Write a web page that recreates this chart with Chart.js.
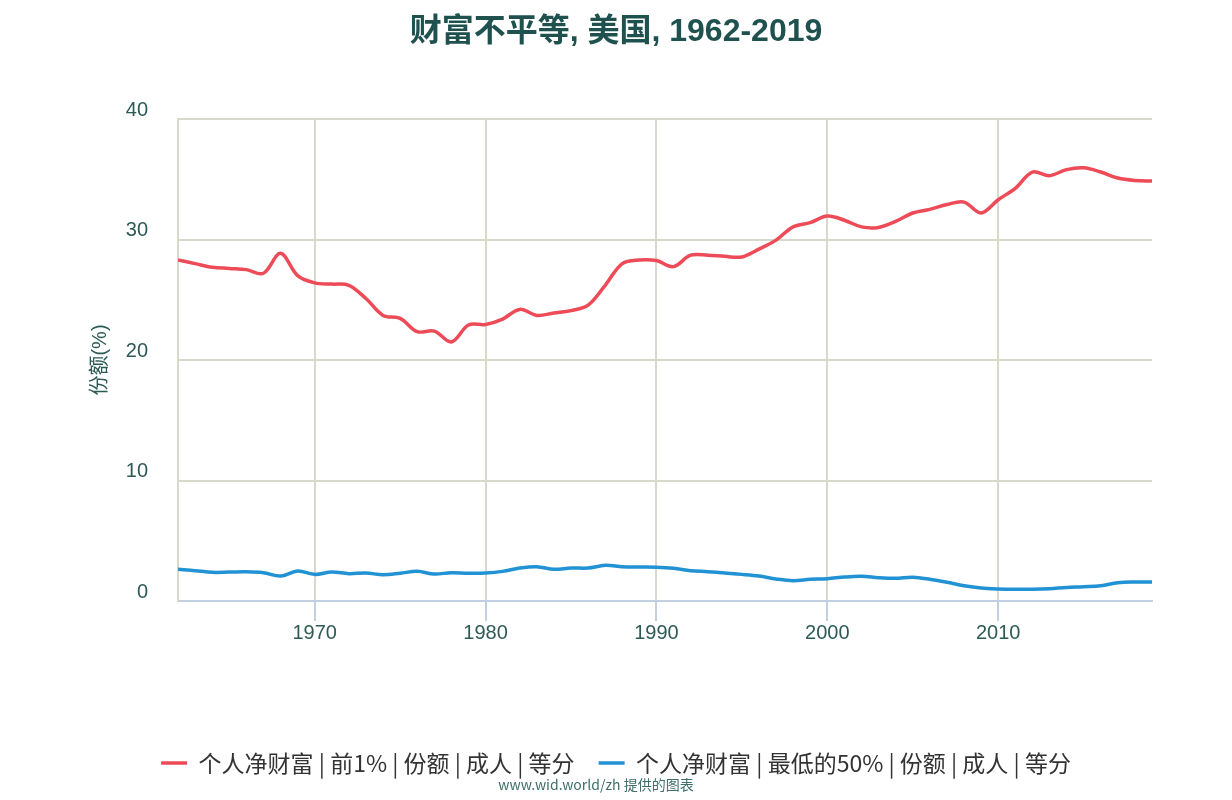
<!DOCTYPE html>
<html>
<head>
<meta charset="utf-8">
<script src="https://cdn.jsdelivr.net/npm/chart.js@4"></script>
<style>
  html, body { margin: 0; padding: 0; background: #ffffff; }
  #wrap { width: 1232px; height: 800px; }
</style>
</head>
<body>
<div id="wrap"><canvas id="graficaRiqueza" width="1232" height="800"></canvas></div>
<script>
// datos
const anios = [
  1962, 1963, 1964, 1965, 1966, 1967, 1968, 1969, 1970, 1971,
  1972, 1973, 1974, 1975, 1976, 1977, 1978, 1979, 1980, 1981,
  1982, 1983, 1984, 1985, 1986, 1987, 1988, 1989, 1990, 1991,
  1992, 1993, 1994, 1995, 1996, 1997, 1998, 1999, 2000, 2001,
  2002, 2003, 2004, 2005, 2006, 2007, 2008, 2009, 2010, 2011,
  2012, 2013, 2014, 2015, 2016, 2017, 2018, 2019
];
const top1 = [
  28.3, 28.0, 27.7, 27.6, 27.5, 27.2, 28.85, 27.0, 26.4, 26.3,
  26.2, 25.1, 23.7, 23.45, 22.35, 22.4, 21.5, 22.9, 22.95, 23.4,
  24.2, 23.7, 23.9, 24.1, 24.55, 26.2, 28.0, 28.3, 28.25, 27.75,
  28.7, 28.7, 28.6, 28.55, 29.2, 29.95, 31.05, 31.4, 31.95, 31.6,
  31.05, 31.0, 31.5, 32.2, 32.5, 32.9, 33.1, 32.2, 33.3, 34.25,
  35.6, 35.3, 35.8, 35.95, 35.6, 35.1, 34.9, 34.85
];
const bottom50 = [
  2.63, 2.52, 2.38, 2.4, 2.43, 2.35, 2.07, 2.49, 2.21, 2.4,
  2.27, 2.32, 2.18, 2.3, 2.46, 2.24, 2.35, 2.3, 2.32, 2.46,
  2.74, 2.85, 2.63, 2.74, 2.74, 2.96, 2.85, 2.82, 2.8, 2.71,
  2.52, 2.43, 2.32, 2.21, 2.07, 1.83, 1.69, 1.8, 1.85, 1.99,
  2.05, 1.93, 1.88, 1.97, 1.8, 1.55, 1.27, 1.08, 1.0, 0.97,
  0.97, 1.02, 1.13, 1.19, 1.27, 1.52, 1.58, 1.58
];
const ticksX = [1970, 1980, 1990, 2000, 2010];
const nombres = [
  "个人净财富 | 前1% | 份额 | 成人 | 等分",
  "个人净财富 | 最低的50% | 份额 | 成人 | 等分"
];

const colorGrid = "#d9d9cb";
const colorEje = "#c0d0e0";
const colorTexto = "#2d5a55";
const fuente = "'Liberation Sans', 'Noto Sans CJK SC', sans-serif";

// texto de creditos abajo
const creditos = {
  id: "creditos",
  afterDraw(chart) {
    const ctx = chart.ctx;
    ctx.save();
    ctx.font = "14px 'Noto Sans CJK SC', sans-serif";
    ctx.fillStyle = "#3d6f68";
    ctx.textAlign = "center";
    ctx.textBaseline = "middle";
    ctx.fillText("www.wid.world/zh 提供的图表", 596, 785);
    ctx.restore();
  },
};

const serie = (ys) => anios.map((a, i) => ({ x: a, y: ys[i] }));

const ctx = document.getElementById("graficaRiqueza").getContext("2d");
window.myChart = new Chart(ctx, {
  type: "line",
  data: {
    datasets: [
      {
        label: nombres[0],
        data: serie(top1),
        borderColor: "#ec4b57",
        backgroundColor: "#ec4b57",
        borderWidth: 3.5,
        pointRadius: 0,
        tension: 0.35,
      },
      {
        label: nombres[1],
        data: serie(bottom50),
        borderColor: "#2192d3",
        backgroundColor: "#2192d3",
        borderWidth: 3.5,
        pointRadius: 0,
        tension: 0.35,
      },
    ],
  },
  options: {
    responsive: false,
    animation: false,
    layout: { padding: { left: 0, right: 0, top: 0, bottom: 15.5 } },
    plugins: {
      title: {
        display: true,
        text: "财富不平等, 美国, 1962-2019",
        color: "#1f524f",
        font: { family: fuente, size: 32, weight: "bold" },
        padding: { top: 13, bottom: 67.6 },
      },
      legend: {
        position: "bottom",
        labels: {
          usePointStyle: true,
          pointStyle: "line",
          pointStyleWidth: 26,
          padding: 24,
          color: "#333333",
          font: { family: "'Noto Sans CJK SC', sans-serif", size: 23 },
        },
      },
      tooltip: { enabled: false },
    },
    scales: {
      x: {
        type: "linear",
        min: 1962,
        max: 2019,
        afterBuildTicks: (s) => {
          s.ticks = ticksX.map((v) => ({ value: v }));
        },
        afterFit: (s) => {
          s.height = 126.5;
        },
        grid: {
          color: colorGrid,
          lineWidth: 2,
          tickColor: colorEje,
          tickLength: 20,
        },
        border: { color: colorEje, width: 2 },
        ticks: {
          color: colorTexto,
          font: { family: fuente, size: 20 },
          padding: 0,
          maxRotation: 0,
          autoSkip: false,
          callback: (v) => String(v),
        },
      },
      y: {
        min: 0,
        max: 40,
        afterFit: (s) => {
          s.width = 178;
        },
        title: {
          display: true,
          text: "份额(%)",
          color: colorTexto,
          font: { family: fuente, size: 20 },
          padding: { top: 88, bottom: 0 },
        },
        grid: { color: colorGrid, lineWidth: 2, drawTicks: false },
        border: { color: colorGrid, width: 2 },
        ticks: {
          stepSize: 10,
          padding: 30,
          labelOffset: -9,
          color: colorTexto,
          font: { family: fuente, size: 20 },
        },
      },
      // eje vacio a la derecha, solo reserva el margen
      derecha: {
        type: "linear",
        position: "right",
        display: true,
        afterFit: (s) => {
          s.width = 80;
        },
        grid: { drawOnChartArea: false, drawTicks: false },
        border: { display: false },
        ticks: { display: false },
      },
    },
  },
  plugins: [creditos],
});
</script>
</body>
</html>
